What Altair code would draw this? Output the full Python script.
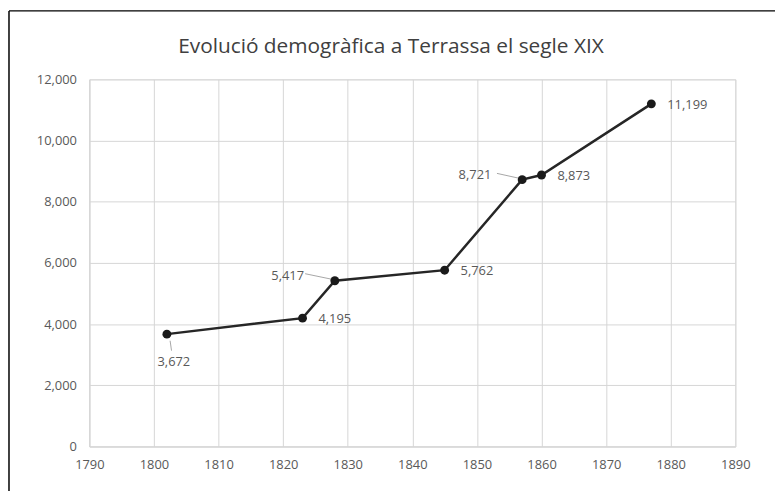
import altair as alt
import pandas as pd

years = [1802, 1823, 1828, 1845, 1857, 1860, 1877]
population = [3672, 4195, 5417, 5762, 8721, 8873, 11199]
x_ticks = list(range(1790, 1891, 10))
y_ticks = [0, 2000, 4000, 6000, 8000, 10000, 12000]
title_text = "Evolució demogràfica a Terrassa el segle XIX"

right_years = [1823, 1845, 1860, 1877]
left_years = [1828, 1857]
below_years = [1802]

df = pd.DataFrame({"year": years, "pop": population})

FONT = "Open Sans"
GRAY = "#595959"
GRID = "#d6d6d6"

x = alt.X("year:Q",
          scale=alt.Scale(domain=[1790, 1890], nice=False, zero=False),
          axis=alt.Axis(values=x_ticks, format="d", title=None, ticks=False,
                        labelPadding=12, labelFontSize=13, labelColor=GRAY,
                        labelFont=FONT, domainColor=GRID, gridColor=GRID,
                        labelFlush=False))
y = alt.Y("pop:Q",
          scale=alt.Scale(domain=[0, 12000], nice=False),
          axis=alt.Axis(values=y_ticks, format=",.0f", title=None, ticks=False,
                        labelPadding=13, labelFontSize=13, labelColor=GRAY,
                        labelFont=FONT, domainColor=GRID, gridColor=GRID))

base = alt.Chart(df)
one = alt.Chart(pd.DataFrame({"t": [title_text]}))

# invisible box fixing the canvas extent
canvas = one.mark_rect(filled=False, stroke="white", strokeOpacity=0, strokeWidth=1).encode(
    x=alt.value(-82), x2=alt.value(691), y=alt.value(-70), y2=alt.value(415))
# visible top and left border lines (right/bottom fall outside the picture)
border_top = one.mark_rule(color="black", strokeWidth=1.5).encode(
    x=alt.value(-81), x2=alt.value(691), y=alt.value(-69))
border_left = one.mark_rule(color="black", strokeWidth=1.5).encode(
    x=alt.value(-81), y=alt.value(-69), y2=alt.value(415))

title = one.mark_text(font=FONT, fontSize=21, color="#404040", align="center",
                      baseline="middle").encode(
    x=alt.value(304), y=alt.value(-33), text="t:N")

line = base.mark_line(color="#262626", strokeWidth=2.5).encode(x=x, y=y)
points = base.mark_circle(color="#1a1a1a", size=80, opacity=1).encode(x="year:Q", y="pop:Q")

lab_right = base.transform_filter(
    alt.FieldOneOfPredicate(field="year", oneOf=right_years)
).mark_text(align="left", baseline="middle", dx=16, dy=1, fontSize=13,
            font=FONT, color=GRAY).encode(x="year:Q", y="pop:Q",
                                          text=alt.Text("pop:Q", format=","))
lab_left = base.transform_filter(
    alt.FieldOneOfPredicate(field="year", oneOf=left_years)
).mark_text(align="right", baseline="middle", dx=-31, dy=-5, fontSize=13,
            font=FONT, color=GRAY).encode(x="year:Q", y="pop:Q",
                                          text=alt.Text("pop:Q", format=","))
lab_below = base.transform_filter(
    alt.FieldOneOfPredicate(field="year", oneOf=below_years)
).mark_text(align="center", baseline="middle", dx=7, dy=28, fontSize=13,
            font=FONT, color=GRAY).encode(x="year:Q", y="pop:Q",
                                          text=alt.Text("pop:Q", format=","))

lead_5417 = base.transform_filter(alt.datum.year == 1828).transform_calculate(
    xa="datum.year - 4.6", ya="datum.pop + 230",
    xb="datum.year - 0.5", yb="datum.pop + 50"
).mark_rule(color="#a6a6a6", strokeWidth=1).encode(
    x="xa:Q", y="ya:Q", x2="xb:Q", y2="yb:Q")
lead_8721 = base.transform_filter(alt.datum.year == 1857).transform_calculate(
    xa="datum.year - 3.9", ya="datum.pop + 205",
    xb="datum.year - 0.35", yb="datum.pop + 40"
).mark_rule(color="#a6a6a6", strokeWidth=1).encode(
    x="xa:Q", y="ya:Q", x2="xb:Q", y2="yb:Q")
lead_3672 = base.transform_filter(alt.datum.year == 1802).transform_calculate(
    xa="datum.year + 0.5", ya="datum.pop - 215",
    xb="datum.year + 0.72", yb="datum.pop - 540"
).mark_rule(color="#a6a6a6", strokeWidth=1).encode(
    x="xa:Q", y="ya:Q", x2="xb:Q", y2="yb:Q")

chart = alt.layer(
    canvas, border_top, border_left, title, line, lead_5417, lead_8721, lead_3672,
    points, lab_right, lab_left, lab_below
).properties(
    width=651, height=370, padding=0,
).configure_view(stroke=None).configure(background="white")

chart.save("out.html", embed_options={"renderer": "svg", "actions": False})
